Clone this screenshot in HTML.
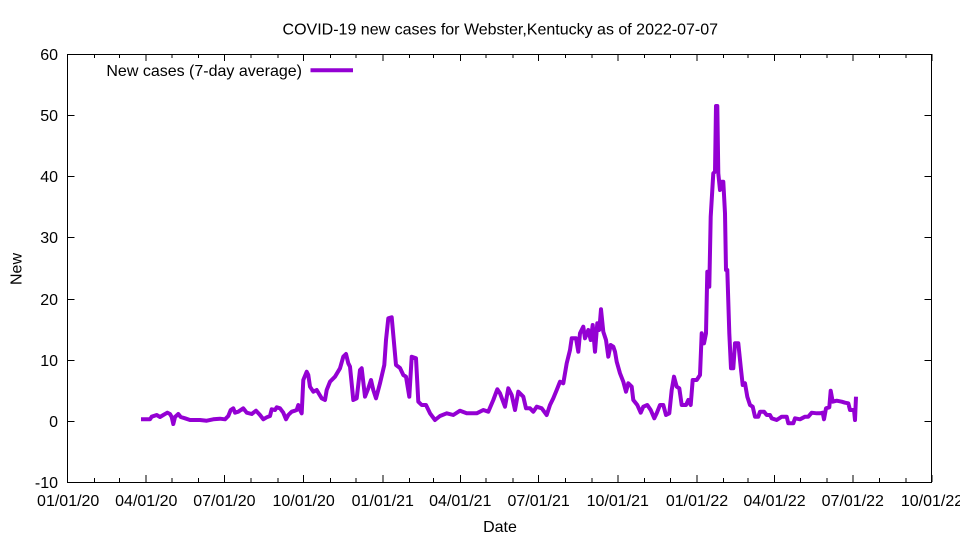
<!DOCTYPE html>
<html>
<head>
<meta charset="utf-8">
<style>
html,body{margin:0;padding:0;background:#fff;}
svg{display:block;}
text{font-family:"Liberation Sans",Arial,sans-serif;font-size:16px;fill:#000;}
</style>
</head>
<body>
<svg width="960" height="540" viewBox="0 0 960 540" xmlns="http://www.w3.org/2000/svg">
<rect x="0" y="0" width="960" height="540" fill="#fff"/>
<text x="500.3" y="34.3" text-anchor="middle">COVID-19 new cases for Webster,Kentucky as of 2022-07-07</text>

<g stroke="#000" stroke-width="1" fill="none" shape-rendering="crispEdges">
<!-- y ticks left & right -->
<path d="M67.5 482.5h7M931.5 482.5h-7
M67.5 421.5h7M931.5 421.5h-7
M67.5 360.5h7M931.5 360.5h-7
M67.5 299.5h7M931.5 299.5h-7
M67.5 237.5h7M931.5 237.5h-7
M67.5 176.5h7M931.5 176.5h-7
M67.5 115.5h7M931.5 115.5h-7
M67.5 54.5h7M931.5 54.5h-7"/>
<!-- major x ticks -->
<path d="M67.7 482v-7M67.7 54v7
M146 482v-7M146 54v7
M224.4 482v-7M224.4 54v7
M303.6 482v-7M303.6 54v7
M382.8 482v-7M382.8 54v7
M460.3 482v-7M460.3 54v7
M538.6 482v-7M538.6 54v7
M617.8 482v-7M617.8 54v7
M697 482v-7M697 54v7
M774.5 482v-7M774.5 54v7
M852.8 482v-7M852.8 54v7
M932 482v-7M932 54v7"/>
<!-- minor x ticks -->
<path d="M94.4 482v-4M94.4 54v4
M119.4 482v-4M119.4 54v4
M171.9 482v-4M171.9 54v4
M198.6 482v-4M198.6 54v4
M251.1 482v-4M251.1 54v4
M277.8 482v-4M277.8 54v4
M330.3 482v-4M330.3 54v4
M356.1 482v-4M356.1 54v4
M409.5 482v-4M409.5 54v4
M433.6 482v-4M433.6 54v4
M486.1 482v-4M486.1 54v4
M512.8 482v-4M512.8 54v4
M565.3 482v-4M565.3 54v4
M592 482v-4M592 54v4
M644.5 482v-4M644.5 54v4
M670.3 482v-4M670.3 54v4
M723.7 482v-4M723.7 54v4
M747.8 482v-4M747.8 54v4
M800.3 482v-4M800.3 54v4
M827 482v-4M827 54v4
M879.5 482v-4M879.5 54v4
M906.2 482v-4M906.2 54v4"/>
<rect x="67.5" y="54.5" width="864" height="428"/>
</g>

<!-- y tick labels -->
<g text-anchor="end">
<text x="58" y="488">-10</text>
<text x="58" y="427">0</text>
<text x="58" y="366">10</text>
<text x="58" y="305">20</text>
<text x="58" y="243">30</text>
<text x="58" y="182">40</text>
<text x="58" y="121">50</text>
<text x="58" y="60">60</text>
</g>

<!-- x tick labels -->
<g text-anchor="middle">
<text x="68.2" y="506">01/01/20</text>
<text x="146.3" y="506">04/01/20</text>
<text x="224.4" y="506">07/01/20</text>
<text x="303.6" y="506">10/01/20</text>
<text x="382.8" y="506">01/01/21</text>
<text x="460.3" y="506">04/01/21</text>
<text x="538.6" y="506">07/01/21</text>
<text x="617.8" y="506">10/01/21</text>
<text x="697" y="506">01/01/22</text>
<text x="774.5" y="506">04/01/22</text>
<text x="852.8" y="506">07/01/22</text>
<text x="932" y="506">10/01/22</text>
</g>

<text x="500" y="532" text-anchor="middle">Date</text>
<text transform="translate(21.7,269) rotate(-90)" text-anchor="middle">New</text>

<!-- legend -->
<text x="302" y="76" text-anchor="end">New cases (7-day average)</text>
<line x1="310.5" y1="70.3" x2="353" y2="70.3" stroke="#9400d3" stroke-width="4"/>

<polyline fill="none" stroke="#9400d3" stroke-width="4" stroke-linejoin="round" points="
141,419.3 150,419.3 151.7,416.7 156.7,415 160,417 163.3,415 167.3,412.7 170,414 171.7,417 173.3,424 175,417 178.3,414 180.7,417 185,418.3 190,420 200,420 206.7,420.7 213.3,419.3 220,418.7 225,419.3 228.3,416 230.7,410 233.3,408.3 235,412.7 238.3,411.7 243.3,408.3 246.7,412.7 251.7,414 256,410.7 260,415 263.3,419.3 266.7,417.3 270,416 271.7,409.3 275,410 276.7,407.3 280,408.3 283.3,412.7 286,419.3 288.3,415 291.7,411.7 295,410.7 296.7,410 298.3,405 300,410 301.7,413.3 303.3,380 306.7,371.7 308.3,375 310,386.7 313.3,391.7 316.7,390 321.7,398.3 325,400 326.7,390 330,381.7 335,376.7 340,368.3 343.3,356.7 346,354 348.3,363.3 350,366.7 353.3,400 356.7,398.3 360,370 361.7,368.3 365,396.7 368.3,388.3 371,380 373.3,390 376,398.3 380,383.3 384.3,365 386,340 388.3,318.3 391.7,317.3 396,365 400,368 403.3,375 406,376.7 409.3,396.7 411.7,356.7 416,358.3 418.3,401.7 421.7,405 426,405 430,413.3 435,420 440,416 446.7,413.3 453.3,415 460,410.7 466.7,413.3 476.7,413.3 483.3,410 488.3,411.7 493.3,400 497.3,389.3 500,393.3 505,406.7 508.3,388.3 511.7,395 515,410 518.3,391.7 523.3,396.7 526,408.3 530,408.3 533.3,411.7 536.7,406.7 541.7,408.3 546.7,415 550,405 553.3,398.3 556.7,390 560,381.7 563.3,383.3 566.7,363.3 570,350 571.7,338.3 576,338.3 578.3,351.7 580,333.3 583.3,326.7 585,338.3 588.3,330 590.7,340 592.7,325 595,351.7 597.3,323.3 599.3,330 601,309.3 603.3,331.7 606,340 608.3,356.7 610.7,345 613.3,346.7 615,351.7 616.7,361.7 620,373.3 623.3,381.7 626,391.7 628.3,383.3 631.7,386.7 633.3,400 637.3,405 640.7,412.7 643.3,406.7 647.3,405 650.7,410 654.3,418.3 656.7,413.3 660,405 663.3,405 666,415 669.3,413.3 671.7,390 674,376.7 676.7,386.7 679.3,388.3 681.7,405 686,405 688.3,400 690.7,405 692.7,380 696.7,380 700,375 701.7,333.3 704,343.3 706,333.3 707.3,271.7 709.3,286.7 710.7,216.7 713.3,173.3 715,171.7 716,106 717.3,106 718.3,173.3 720,190 721.7,181.7 723.3,181.7 725,213.3 726,270 727.3,270 729.3,333.3 731,368.3 733.3,368.3 735,343.3 738.3,343.3 740.7,366.7 742.7,385 745,383.3 747.3,396.7 750,405 752.7,406.7 755,416.7 758.3,416.7 760,411.7 764,411.7 766.7,415 770,415 771.7,418.3 776.7,420 781.7,416.7 786.7,416.7 788.3,423.3 793.3,423.3 795,418.3 800,419.3 805,416.7 808.3,416.7 811.7,412.7 816.7,413.3 820,413.3 822.7,412.7 824,419.3 826,408.3 829.3,407.3 830.7,390.7 832.7,401.7 836.7,400.7 841.7,401.7 845,402.7 848.3,403.3 850,410 854,410 855,420 856,396.7"/>
</svg>
</body>
</html>
